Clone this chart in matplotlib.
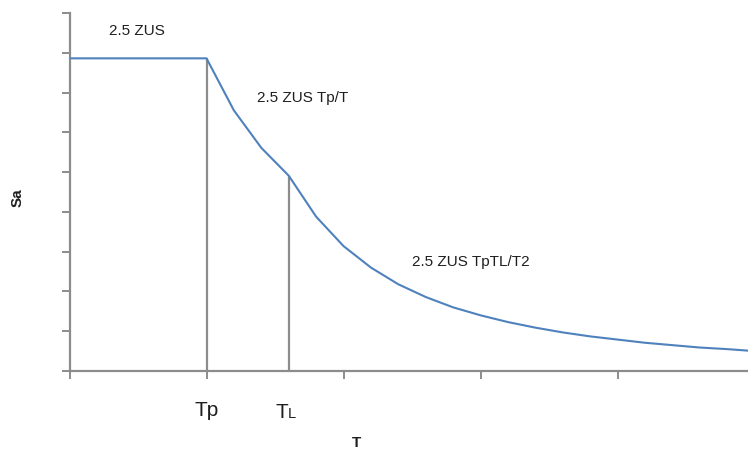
import matplotlib.pyplot as plt
import matplotlib.transforms as mtransforms

# Espectro de diseño: Sa vs. categoría de periodo
periodo = list(range(26))
sa = [7.86, 7.86, 7.86, 7.86, 7.86, 7.86, 6.55, 5.61, 4.91, 3.88,
      3.14, 2.60, 2.18, 1.86, 1.60, 1.40, 1.23, 1.09, 0.97, 0.87,
      0.79, 0.71, 0.65, 0.59, 0.55, 0.50]
idx_tp = 5
idx_tl = 8
etiquetas = ["2.5 ZUS", "2.5 ZUS Tp/T", "2.5 ZUS TpTL/T2"]

GRIS = "#8c8c8c"
AZUL = "#4f81bd"
TEXTO = "#1f1f1f"

fig = plt.figure(figsize=(7.48, 4.5), dpi=100)
ax = fig.add_axes([69.5 / 748, 1 - 371 / 450, 1 - 69.5 / 748, 358 / 450])

ax.plot(periodo, sa, color=AZUL, lw=1.5, zorder=3)
ax.vlines([periodo[idx_tp], periodo[idx_tl]], 0, [sa[idx_tp], sa[idx_tl]],
          color=GRIS, lw=1.6, zorder=2)

ax.set_xlim(0, 24.76)
ax.set_ylim(0, 9)
ax.set_xticks([0, 5, 10, 15, 20])
ax.set_yticks(range(10))
ax.set_xticklabels([])
ax.set_yticklabels([])
ax.tick_params(direction="out", length=6, width=1.4, color=GRIS)
for lado in ["top", "right"]:
    ax.spines[lado].set_visible(False)
for lado in ["left", "bottom"]:
    ax.spines[lado].set_color(GRIS)
    ax.spines[lado].set_linewidth(1.6)

fuente = "Liberation Sans"
ax.text(2.45, 8.55, etiquetas[0], fontsize=11, family=fuente,
        ha="center", va="center", color=TEXTO)
ax.text(8.5, 6.86, etiquetas[1], fontsize=11, family=fuente,
        ha="center", va="center", color=TEXTO)
ax.text(14.65, 2.74, etiquetas[2], fontsize=11, family=fuente,
        ha="center", va="center", color=TEXTO)

trans = mtransforms.blended_transform_factory(ax.transData, fig.transFigure)
ax.text(periodo[idx_tp], 1 - 416 / 450, "Tp", transform=trans, fontsize=15,
        family=fuente, ha="center", va="baseline", color=TEXTO)
ax.text(periodo[idx_tl] - 0.02, 1 - 418 / 450, "T", transform=trans, fontsize=15,
        family=fuente, ha="right", va="baseline", color=TEXTO)
ax.text(periodo[idx_tl] - 0.02, 1 - 418 / 450, "L", transform=trans, fontsize=10.5,
        family=fuente, ha="left", va="baseline", color=TEXTO)

fig.text(356 / 748, 1 - 443 / 450, "T", fontsize=11, fontweight="bold",
         family=fuente, ha="center", va="center", color=TEXTO)
fig.text(18 / 748, 1 - 198 / 450, "Sa", fontsize=11, fontweight="bold",
         family=fuente, ha="center", va="center", rotation=90, color=TEXTO)

fig.savefig("out.png", dpi=100)
